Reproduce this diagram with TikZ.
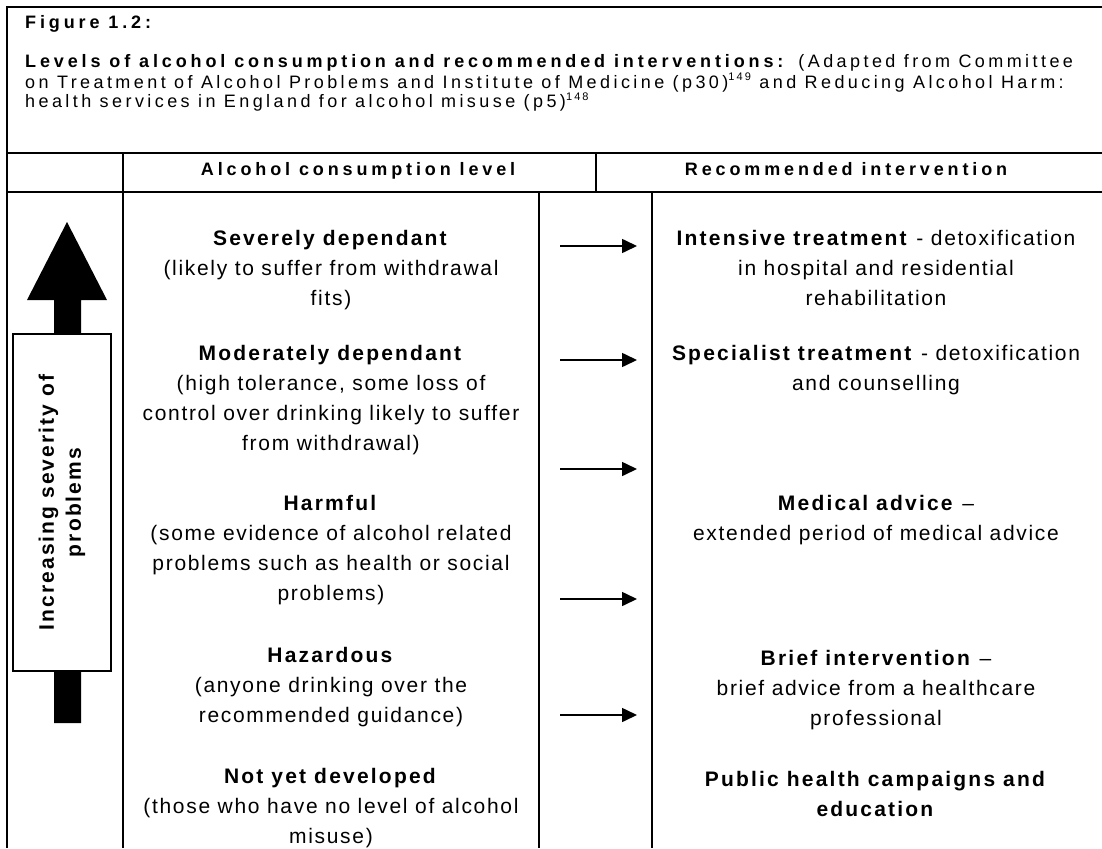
\documentclass[tikz,border=0pt]{standalone}
\usepackage{fontspec}
\setmainfont{Liberation Sans}
\newfontfamily\hdfont[LetterSpace=19,BoldFeatures={LetterSpace=21.5}]{Liberation Sans}
\newfontfamily\bdfont[LetterSpace=8,BoldFeatures={LetterSpace=10.5}]{Liberation Sans}
\newfontfamily\sdfont[LetterSpace=10]{Liberation Sans}
\usetikzlibrary{arrows.meta}
\newcommand{\supnum}[1]{\raisebox{7pt}{\fontsize{11}{11}\selectfont #1}}
\begin{document}
\begin{tikzpicture}[x=1pt,y=-1pt,
  tline/.style={line width=2pt},
  harrow/.style={line width=1.6pt,-{Triangle[length=15pt,width=14pt]}},
  hdt/.style={font=\hdfont\fontsize{18}{20}\selectfont,inner sep=0pt},
  bodyt/.style={font=\bdfont\fontsize{21}{30}\selectfont,align=center,inner sep=0pt,anchor=base},
  sidet/.style={font=\sdfont\bfseries\fontsize{21}{27}\selectfont,align=center}
]
\useasboundingbox (0,0) rectangle (1102,848);
% table rules
\draw[tline] (7,848) -- (7,7) -- (1102,7);
\draw[tline] (7,153) -- (1102,153);
\draw[tline] (7,192) -- (1102,192);
\draw[tline] (123,153) -- (123,848);
\draw[tline] (596,153) -- (596,192);
\draw[tline] (539,192) -- (539,848);
\draw[tline] (652,192) -- (652,848);
% caption (base anchor = last line)
\node[hdt,anchor=base west] (fig) at (25,29) {\textbf{Figure 1.2:}};
\node[hdt,anchor=base west,align=left] (cap) at (25,108)
 {\textbf{Levels of alcohol consumption and recommended interventions:} (Adapted from Committee\\
  on Treatment of Alcohol Problems and Institute of Medicine (p30)\supnum{149} and Reducing Alcohol Harm:\\
  health services in England for alcohol misuse (p5)\supnum{148}};
% column heads
\node[hdt,anchor=base] (hleft) at (360,175) {\textbf{Alcohol consumption level}};
\node[hdt,anchor=base] (hright) at (848,175) {\textbf{Recommended intervention}};
% severity arrow
\fill (67,222) -- (107,300) -- (81,300) -- (81,723) -- (54,723) -- (54,300) -- (27,300) -- cycle;
\node[sidet,draw,fill=white,line width=1.5pt,rotate=90,minimum width=337pt,minimum height=98pt,inner sep=0pt]
  (sev) at (62,502.5) {Increasing severity of\\problems};
% left column
\node[bodyt] (l1) at (331,305) {\textbf{Severely dependant}\\(likely to suffer from withdrawal\\fits)};
\node[bodyt] (l2) at (331,450) {\textbf{Moderately dependant}\\(high tolerance, some loss of\\control over drinking likely to suffer\\from withdrawal)};
\node[bodyt] (l3) at (331,600) {\textbf{Harmful}\\(some evidence of alcohol related\\problems such as health or social\\problems)};
\node[bodyt] (l4) at (331,722) {\textbf{Hazardous}\\(anyone drinking over the\\recommended guidance)};
\node[bodyt] (l5) at (331,843) {\textbf{Not yet developed}\\(those who have no level of alcohol\\misuse)};
% right column
\node[bodyt] (r1) at (876,305) {\textbf{Intensive treatment} - detoxification\\in hospital and residential\\rehabilitation};
\node[bodyt] (r2) at (876,390) {\textbf{Specialist treatment} - detoxification\\and counselling};
\node[bodyt] (r3) at (876,540) {\textbf{Medical advice} –\\extended period of medical advice};
\node[bodyt] (r4) at (876,725) {\textbf{Brief intervention} –\\brief advice from a healthcare\\professional};
\node[bodyt] (r5) at (876,816) {\textbf{Public health campaigns and}\\\textbf{education}};
% arrows
\coordinate (a1s) at (560,246); \coordinate (a1e) at (637,246);
\coordinate (a2s) at (560,360); \coordinate (a2e) at (637,360);
\coordinate (a3s) at (560,469); \coordinate (a3e) at (637,469);
\coordinate (a4s) at (560,599); \coordinate (a4e) at (637,599);
\coordinate (a5s) at (560,715); \coordinate (a5e) at (637,715);
\draw[harrow] (a1s) -- (a1e);
\draw[harrow] (a2s) -- (a2e);
\draw[harrow] (a3s) -- (a3e);
\draw[harrow] (a4s) -- (a4e);
\draw[harrow] (a5s) -- (a5e);
\end{tikzpicture}
\end{document}
